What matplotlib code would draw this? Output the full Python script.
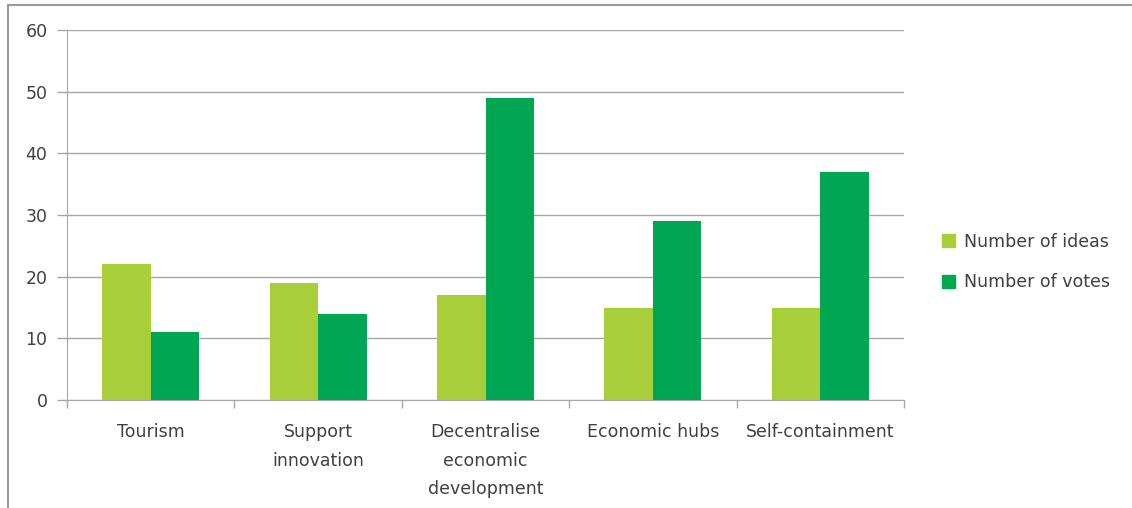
import numpy as np
import matplotlib.pyplot as plt
from matplotlib.patches import Patch
from matplotlib.lines import Line2D

categories = ['Tourism', 'Support\ninnovation', 'Decentralise\neconomic\ndevelopment',
              'Economic hubs', 'Self-containment']
ideas = [22, 19, 17, 15, 15]
votes = [11, 14, 49, 29, 37]

light = '#A8CE3A'
dark = '#00A651'
grey = '#A6A6A6'
txt = '#404040'

plt.rcParams['font.family'] = ['DejaVu Sans']
fs = 12.5

fig = plt.figure(figsize=(11.32, 5.08), dpi=100)
ax = fig.add_axes([67/1132, 1-400/508, (904-67)/1132, 370/508])

x = np.arange(len(categories))
w = 0.29
ax.bar(x - w/2, ideas, w, color=light, label='Number of ideas', zorder=3)
ax.bar(x + w/2, votes, w, color=dark, label='Number of votes', zorder=3)

ax.set_xlim(-0.5, len(categories) - 0.5)
ax.set_ylim(0, 60)
ax.set_yticks(range(0, 61, 10))
ax.yaxis.grid(True, color=grey, linewidth=1, zorder=0)
ax.set_axisbelow(True)

ax.set_xticks(np.arange(-0.5, len(categories)), minor=False)
ax.set_xticklabels([])
ax.tick_params(axis='x', length=6, color=grey, width=1)
for i, c in enumerate(categories):
    ax.text(i, -3.8, c, ha='center', va='top', fontsize=fs, color=txt, linespacing=1.75)

ax.tick_params(axis='y', length=7, color=grey, width=1, labelsize=fs, labelcolor=txt, pad=7)

for s in ['top', 'right']:
    ax.spines[s].set_visible(False)
for s in ['left', 'bottom']:
    ax.spines[s].set_color(grey)

handles = [Patch(color=light), Patch(color=dark)]
leg = fig.legend(handles, ['Number of ideas', 'Number of votes'],
                 loc='center left', bbox_to_anchor=(926/1132, 1-262/508),
                 frameon=False, fontsize=fs, labelspacing=1.3,
                 handlelength=0.75, handleheight=0.75, handletextpad=0.55)
for t in leg.get_texts():
    t.set_color(txt)

# outer border (top and left only visible)
fig.add_artist(Line2D([8/1132, 8/1132], [0, 1-5/508], color='#999999', lw=1.5))
fig.add_artist(Line2D([8/1132, 1], [1-5/508, 1-5/508], color='#999999', lw=1.5))

fig.savefig('out.png', dpi=100)
